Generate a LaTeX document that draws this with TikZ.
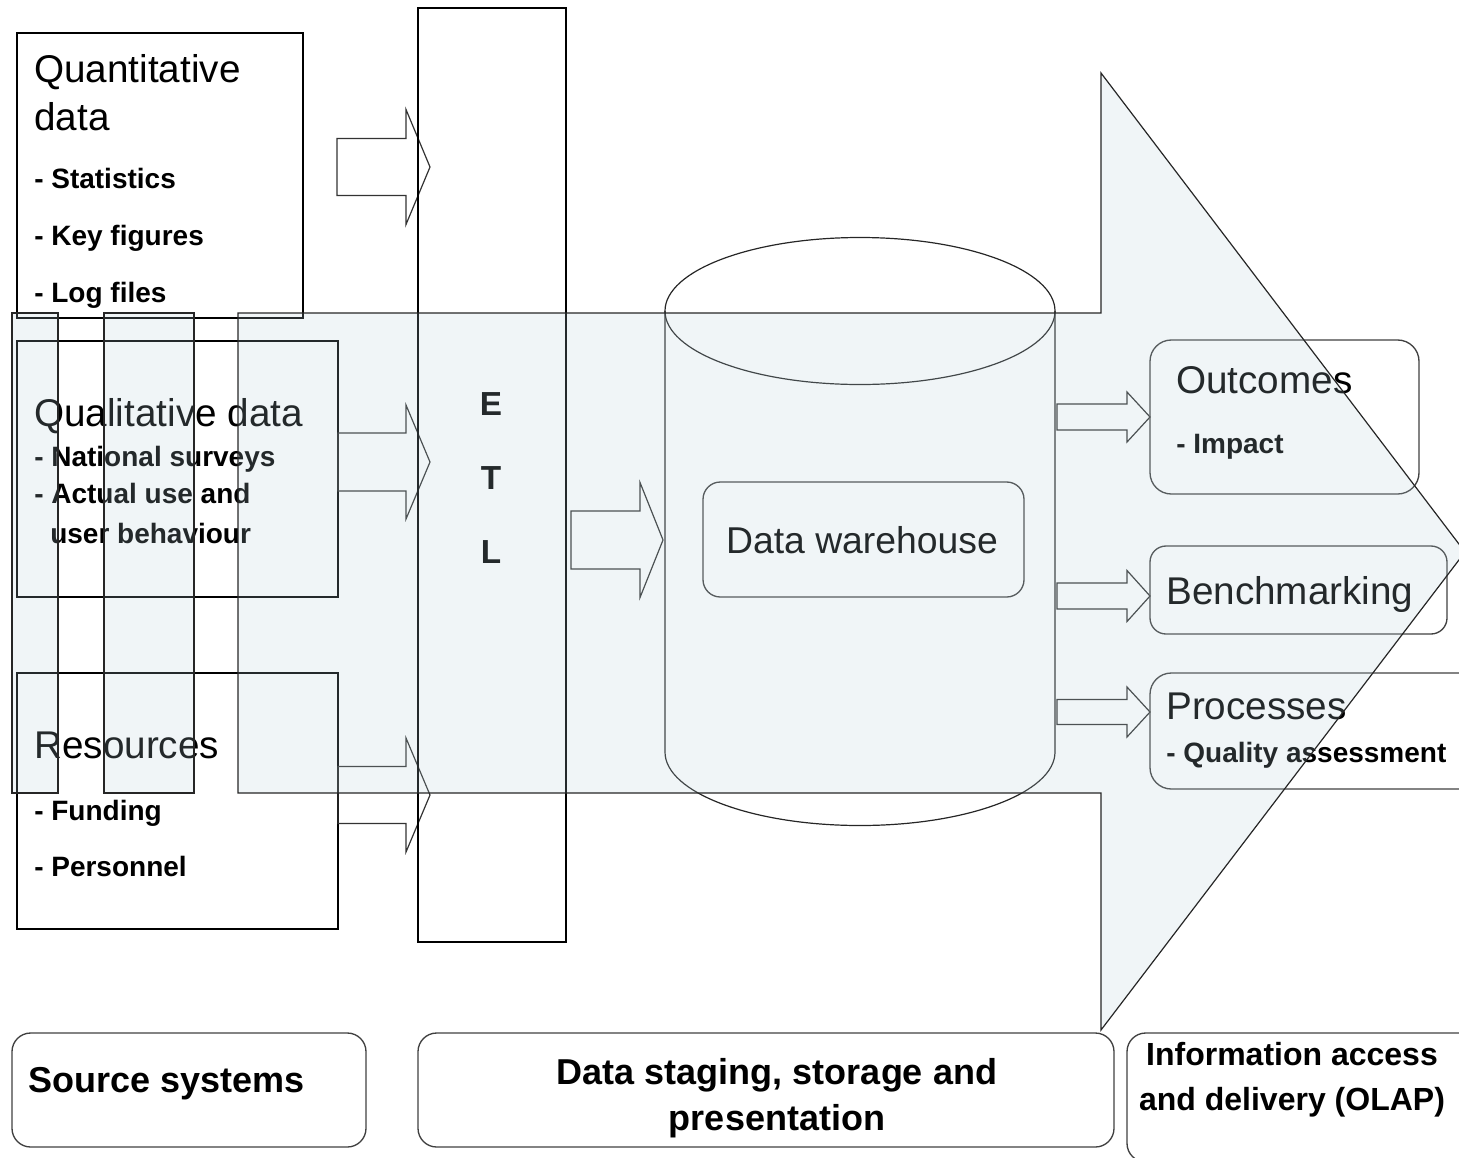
\documentclass[tikz,border=0pt]{standalone}
\usepackage{fontspec}
\setmainfont{Liberation Sans}
\usetikzlibrary{fit}
\definecolor{arrowtint}{RGB}{180,205,215}
\newcommand{\blkarrow}[7]{%
  \draw[blockarr] (#2,{#5-#6}) -- (#3,{#5-#6}) -- (#3,{#5-#7}) -- (#4,#5) coordinate (#1)
    -- (#3,{#5+#7}) -- (#3,{#5+#6}) -- (#2,{#5+#6}) -- cycle;}
\begin{document}
\begin{tikzpicture}[x=0.75pt,y=-0.75pt,
  sqbox/.style={draw=black, line width=1pt, inner sep=0pt},
  rbox/.style={draw=black!75, line width=1pt, inner sep=0pt, rounded corners=14pt},
  blockarr/.style={draw=black!80, line width=0.9pt},
  head/.style={font=\fontsize{29}{34}\selectfont, anchor=base west, inner sep=0pt},
  item/.style={font=\bfseries\fontsize{21}{25}\selectfont, anchor=base west, inner sep=0pt},
  foot/.style={font=\bfseries\fontsize{27}{32}\selectfont, anchor=base, inner sep=0pt},
  etl/.style={font=\bfseries\fontsize{25}{30}\selectfont, anchor=base, inner sep=0pt}]
\useasboundingbox (0,0) rectangle (1459,1157);
\clip (0,0) rectangle (1459,1157);

% source boxes
\node[sqbox, fit={(17,33) (303,318)}] (quant) {};
\node[sqbox, fit={(17,341) (338,597)}] (qual) {};
\node[sqbox, fit={(17,673) (338,929)}] (res) {};

\node[head] (tq1) at (34,82) {Quantitative};
\node[head] (tq2) at (34,130) {data};
\node[item] (tq3) at (34,188) {- Statistics};
\node[item] (tq4) at (34,245) {- Key figures};
\node[item] (tq5) at (34,302) {- Log files};

\node[head] (tl1) at (34,426) {Qualitative data};
\node[item] (tl2) at (34,466) {- National surveys};
\node[item] (tl3) at (34,503) {- Actual use and};
\node[item] (tl4) at (50,543) {user behaviour};

\node[head] (tr1) at (34,758) {Resources};
\node[item] (tr2) at (34,820) {- Funding};
\node[item] (tr3) at (34,876) {- Personnel};

% block arrows into ETL
\blkarrow{a1}{337}{406}{430}{167}{28.5}{57.5}
\blkarrow{a2}{338}{406}{430}{462}{29}{57}
\blkarrow{a3}{338}{406}{430}{795}{28.5}{57}

% ETL column
\node[sqbox, fit={(418,8) (566,942)}] (etlbox) {};
\node[etl] (e) at (491,415) {E};
\node[etl] (t) at (491,489) {T};
\node[etl] (l) at (491,563) {L};

% arrow ETL -> DW
\blkarrow{a4}{571}{640}{663}{540}{29}{57.5}

% cylinder
\draw[draw=black!85, line width=0.9pt] (860,311) ellipse [x radius=195, y radius=73.5];
\draw[draw=black!85, line width=0.9pt] (665,311) -- (665,752) arc[start angle=180, end angle=0, x radius=195, y radius=73.5] -- (1055,311);
\coordinate (cyl) at (860,540);
\node[rbox, fit={(703,482) (1024,597)}, rounded corners=13pt] (dw) {};
\node[font=\fontsize{28}{33}\selectfont, anchor=base, inner sep=0pt] (dwt) at (862,553) {Data warehouse};

% output arrows and boxes
\blkarrow{a5}{1057}{1127}{1150}{417}{13}{25}
\blkarrow{a6}{1057}{1127}{1150}{596}{13}{25.5}
\blkarrow{a7}{1057}{1127}{1150}{712}{12.5}{25}

\node[rbox, fit={(1150,340) (1419,494)}, rounded corners=16pt] (outc) {};
\node[head] (to1) at (1176,393) {Outcomes};
\node[item] (to2) at (1176,453) {- Impact};
\node[rbox, fit={(1150,546) (1447,634)}, rounded corners=12pt] (bench) {};
\node[head] (tb1) at (1166,604) {Benchmarking};
\node[rbox, fit={(1150,673) (1480,789)}, rounded corners=16pt] (proc) {};
\node[head] (tp1) at (1166,719) {Processes};
\node[item] (tp2) at (1166,762) {- Quality assessment};

% big striped arrow (semi-transparent overlay)
\begin{scope}[draw=black!85, line width=0.9pt, fill=arrowtint, fill opacity=0.2]
  \filldraw (12,313) rectangle (58,793);
  \filldraw (104,313) rectangle (194,793);
  \filldraw (238,313) -- (1101,313) -- (1101,73) -- (1465,552) -- (1101,1030) -- (1101,793) -- (238,793) -- cycle;
\end{scope}

% footer boxes
\node[rbox, fit={(12,1033) (366,1147)}, rounded corners=14pt] (src) {};
\node[foot, anchor=base west] (srct) at (28,1092) {Source systems};
\node[rbox, fit={(418,1033) (1114,1147)}, rounded corners=14pt] (stg) {};
\node[foot] (stg1) at (777,1084) {Data staging, storage and};
\node[foot] (stg2) at (777,1130) {presentation};
\node[rbox, fit={(1127,1033) (1480,1162)}, rounded corners=14pt] (olap) {};
\node[foot, font=\bfseries\fontsize{24}{28}\selectfont] (ol1) at (1292,1065) {Information access};
\node[foot, font=\bfseries\fontsize{24}{28}\selectfont] (ol2) at (1292,1110) {and delivery (OLAP)};
\end{tikzpicture}
\end{document}
